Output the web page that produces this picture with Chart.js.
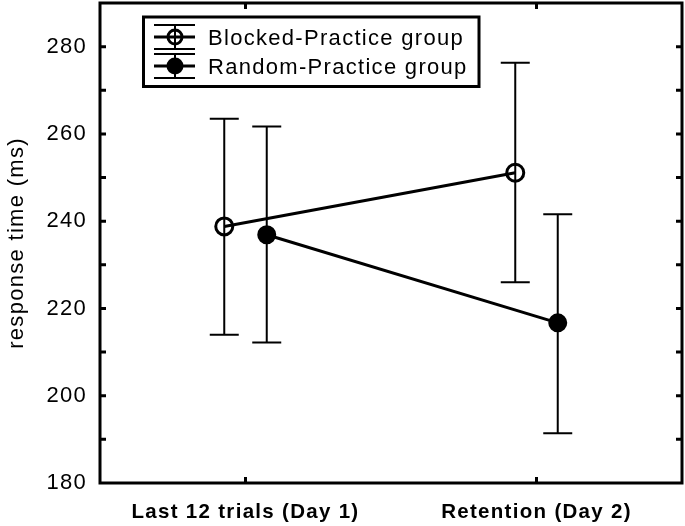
<!DOCTYPE html>
<html><head><meta charset="utf-8">
<script src="https://cdn.jsdelivr.net/npm/chart.js@4"></script>
<style>html,body{margin:0;padding:0;background:#fff;}#wrap{width:685px;height:526px;}</style>
</head><body><div id="wrap"><canvas id="c" width="685" height="526"></canvas></div>
<script>
// ---- data ----
const categories = ['Last 12 trials (Day 1)', 'Retention (Day 2)'];
const seriesNames = ['Blocked-Practice group', 'Random-Practice group'];
const blockedMean  = [238.8, 251.1];
const blockedUpper = [263.5, 276.3];
const blockedLower = [214.0, 226.0];
const randomMean   = [236.9, 216.7];
const randomUpper  = [261.7, 241.6];
const randomLower  = [212.2, 191.4];
const yTickLabels  = [180, 200, 220, 240, 260, 280];
const yAxisTitle   = 'response time (ms)';

// ---- styling constants ----
const FONT = "'Liberation Sans', Arial, sans-serif";
const GROUP_SHIFT = 0.073;      // horizontal dodge of the two groups (in category units)
const LETTER_SP = '1.3px';

const groups = [
  {name: seriesNames[0], mean: blockedMean, upper: blockedUpper, lower: blockedLower, shift: -GROUP_SHIFT, open: true},
  {name: seriesNames[1], mean: randomMean,  upper: randomUpper,  lower: randomLower,  shift:  GROUP_SHIFT, open: false}
];

const datasets = groups.map(g => ({
  label: g.name,
  data: g.mean.map((v, i) => ({x: i + g.shift, y: v})),
  borderColor: '#000',
  borderWidth: 3,
  tension: 0,
  pointRadius: 8.5,
  pointBorderWidth: g.open ? 3 : 2,
  pointBorderColor: '#000',
  pointBackgroundColor: g.open ? 'rgba(0,0,0,0)' : '#000',
  pointHoverRadius: 8.5,
  errUpper: g.upper,
  errLower: g.lower,
  openMarker: g.open
}));

const spacingPlugin = {
  id: 'spacing',
  beforeLayout(chart) { chart.ctx.letterSpacing = LETTER_SP; },
  beforeDraw(chart) { chart.ctx.letterSpacing = LETTER_SP; }
};

const decorPlugin = {
  id: 'decor',
  beforeDatasetsDraw(chart) {
    const ctx = chart.ctx, xs = chart.scales.x, ys = chart.scales.y;
    ctx.save();
    ctx.strokeStyle = '#000';
    ctx.lineWidth = 2;
    chart.data.datasets.forEach(ds => {
      ds.data.forEach((p, i) => {
        const x = xs.getPixelForValue(p.x);
        const yt = ys.getPixelForValue(ds.errUpper[i]);
        const yb = ys.getPixelForValue(ds.errLower[i]);
        const hw = 14.5;
        ctx.beginPath();
        ctx.moveTo(x, yt); ctx.lineTo(x, yb);
        ctx.moveTo(x - hw, yt); ctx.lineTo(x + hw, yt);
        ctx.moveTo(x - hw, yb); ctx.lineTo(x + hw, yb);
        ctx.stroke();
      });
    });
    ctx.restore();
  },
  afterDraw(chart) {
    const ctx = chart.ctx, ca = chart.chartArea, xs = chart.scales.x, ys = chart.scales.y;
    ctx.save();
    ctx.strokeStyle = '#000';
    ctx.fillStyle = '#000';
    // frame
    ctx.lineWidth = 3;
    ctx.strokeRect(ca.left, ca.top, ca.right - ca.left, ca.bottom - ca.top);
    // inward ticks
    ctx.lineWidth = 3;
    const tl = 6;
    ctx.beginPath();
    ys.ticks.forEach(t => {
      if (t.value <= ys.min || t.value >= ys.max) return;
      const y = ys.getPixelForValue(t.value);
      ctx.moveTo(ca.left, y); ctx.lineTo(ca.left + tl, y);
      ctx.moveTo(ca.right, y); ctx.lineTo(ca.right - tl, y);
    });
    xs.ticks.forEach(t => {
      const x = xs.getPixelForValue(t.value);
      ctx.moveTo(x, ca.bottom); ctx.lineTo(x, ca.bottom - tl);
      ctx.moveTo(x, ca.top); ctx.lineTo(x, ca.top + tl);
    });
    ctx.stroke();
    // legend
    const box = {l: 143.5, t: 17, r: 479, b: 86.5};
    ctx.fillStyle = '#fff';
    ctx.fillRect(box.l, box.t, box.r - box.l, box.b - box.t);
    ctx.fillStyle = '#000';
    ctx.lineWidth = 3;
    ctx.strokeRect(box.l, box.t, box.r - box.l, box.b - box.t);
    const rows = [37, 66];
    const sx0 = 154, sx1 = 195, cx = 175;
    ctx.font = '22px ' + FONT;
    ctx.textBaseline = 'middle';
    ctx.textAlign = 'left';
    chart.data.datasets.forEach((ds, k) => {
      const cy = rows[k];
      ctx.lineWidth = 2;
      ctx.beginPath();
      ctx.moveTo(sx0, cy - 12); ctx.lineTo(sx1, cy - 12);
      ctx.moveTo(sx0, cy + 12); ctx.lineTo(sx1, cy + 12);
      ctx.moveTo(cx, cy - 12); ctx.lineTo(cx, cy + 12);
      ctx.stroke();
      ctx.lineWidth = 3;
      ctx.beginPath();
      ctx.moveTo(sx0, cy); ctx.lineTo(sx1, cy);
      ctx.stroke();
      ctx.beginPath();
      if (ds.openMarker) {
        ctx.arc(cx, cy, 7, 0, Math.PI * 2);
        ctx.lineWidth = 3;
        ctx.stroke();
      } else {
        ctx.arc(cx, cy, 8.5, 0, Math.PI * 2);
        ctx.fill();
      }
      ctx.fillText(ds.label, 208, cy + 1.5);
    });
    ctx.restore();
  }
};

new Chart(document.getElementById('c'), {
  type: 'line',
  data: { datasets },
  plugins: [spacingPlugin, decorPlugin],
  options: {
    responsive: false,
    devicePixelRatio: 1,
    animation: false,
    layout: { autoPadding: false, padding: { left: 0, right: 3, top: 3, bottom: 0 } },
    plugins: { legend: { display: false }, tooltip: { enabled: false } },
    scales: {
      x: {
        type: 'linear',
        min: -0.5, max: 1.5,
        afterBuildTicks: s => { s.ticks = categories.map((_, i) => ({ value: i })); },
        afterFit: s => { s.height = 43; s.paddingLeft = 0; s.paddingRight = 0; },
        grid: { display: false, drawTicks: false },
        border: { display: false },
        ticks: {
          autoSkip: false, maxRotation: 0, minRotation: 0,
          padding: 17,
          color: '#000',
          font: { family: FONT, size: 20.5, weight: 'bold' },
          callback: v => categories[v] ?? ''
        }
      },
      y: {
        min: 180, max: 290,
        afterFit: s => { s.width = 100; s.paddingTop = 0; s.paddingBottom = 0; },
        grid: { display: false, drawTicks: false },
        border: { display: false },
        ticks: {
          stepSize: 10,
          padding: 13,
          color: '#000',
          font: { family: FONT, size: 22 },
          callback: v => yTickLabels.includes(v) ? String(v) : ''
        },
        title: {
          display: true,
          text: yAxisTitle,
          color: '#000',
          font: { family: FONT, size: 22 },
          padding: { top: 4, bottom: 0 }
        }
      }
    }
  }
});
</script>
</body></html>
